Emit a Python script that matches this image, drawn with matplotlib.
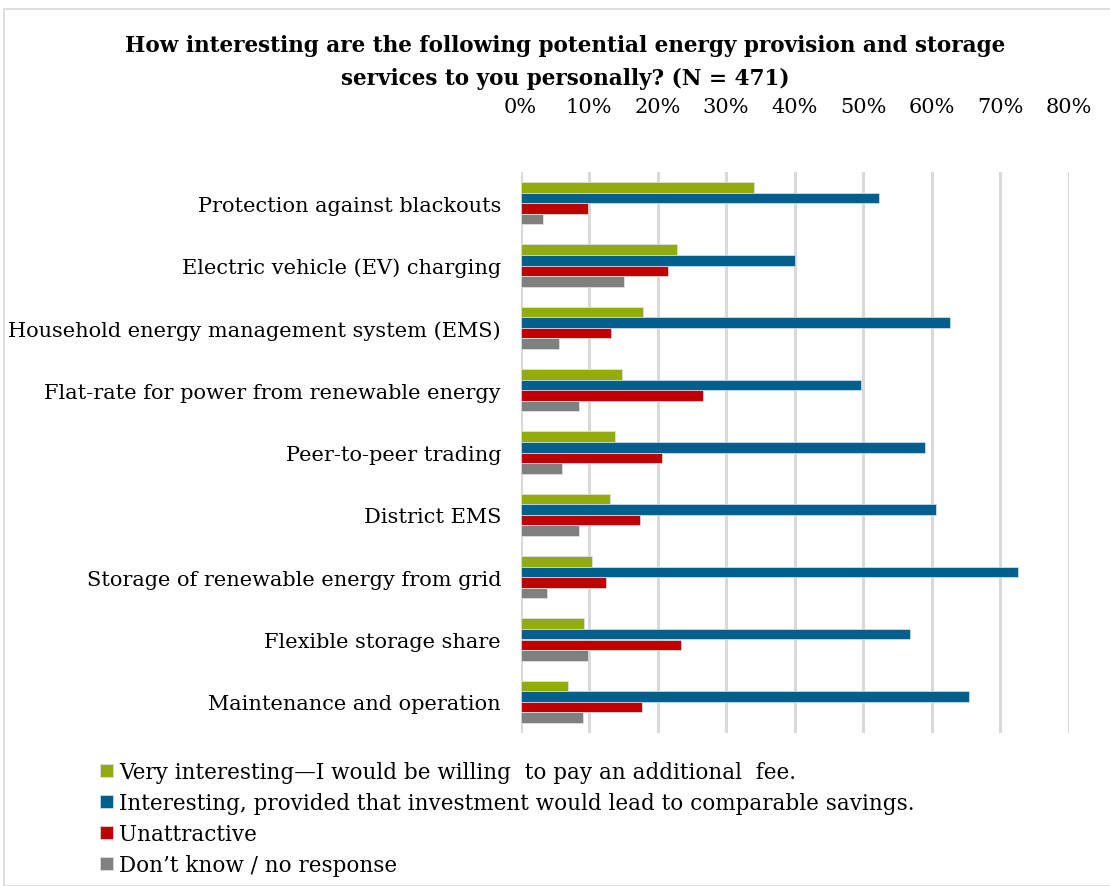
import matplotlib
matplotlib.use("Agg")
import matplotlib.pyplot as plt
from matplotlib.patches import Rectangle
import numpy as np

plt.rcParams['font.family'] = ['DejaVu Serif']

categories = [
    "Protection against blackouts",
    "Electric vehicle (EV) charging",
    "Household energy management system (EMS)",
    "Flat-rate for power from renewable energy",
    "Peer-to-peer trading",
    "District EMS",
    "Storage of renewable energy from grid",
    "Flexible storage share",
    "Maintenance and operation",
]

very_interesting = [34.1, 22.9, 17.9, 14.8, 13.8, 13.0, 10.5, 9.3, 7.0]
interesting = [52.4, 40.1, 62.7, 49.7, 59.1, 60.7, 72.7, 56.9, 65.5]
unattractive = [9.8, 21.6, 13.2, 26.7, 20.7, 17.5, 12.5, 23.4, 17.7]
dont_know = [3.3, 15.1, 5.6, 8.5, 6.1, 8.5, 3.9, 9.8, 9.1]

series_labels = [
    "Very interesting\u2014I would be willing  to pay an additional  fee.",
    "Interesting, provided that investment would lead to comparable savings.",
    "Unattractive",
    "Don\u2019t know / no response",
]
series_colors = ["#93AB0B", "#005F8C", "#C00000", "#808080"]
tick_values = [0, 10, 20, 30, 40, 50, 60, 70, 80]
tick_labels = ["0%", "10%", "20%", "30%", "40%", "50%", "60%", "70%", "80%"]

W, H = 1110, 887
fig = plt.figure(figsize=(W / 100, H / 100), dpi=100)

# outer frame
fig.patches.append(Rectangle((4 / W, 0), 1.2, (H - 10) / H, transform=fig.transFigure,
                             fill=False, edgecolor="#D9D9D9", linewidth=1.2))

left, right, top, bottom = 520.5, 1068.5, 173, 734
ax = fig.add_axes([left / W, 1 - bottom / H, (right - left) / W, (bottom - top) / H])

y = np.arange(len(categories))
h = 0.169
all_series = [very_interesting, interesting, unattractive, dont_know]
handles = []
for k, (vals, col) in enumerate(zip(all_series, series_colors)):
    bars = ax.barh(y + (k - 1.5) * h, vals, height=h, color=col,
                   edgecolor="#DCE6F0", linewidth=0.5, zorder=3)
    handles.append(bars)

fs = 15
ax.set_xlim(0, 80)
ax.set_ylim(len(categories) - 0.5, -0.5)
ax.set_xticks(tick_values)
ax.set_xticklabels(tick_labels)
ax.xaxis.tick_top()
ax.tick_params(axis="x", length=0, pad=40, labelsize=fs)
ax.tick_params(axis="y", length=0, pad=14, labelsize=fs)
ax.set_yticks(y)
ax.set_yticklabels(categories)
ax.grid(axis="x", color="#D9D9D9", linewidth=2.2, zorder=0)
for s in ax.spines.values():
    s.set_visible(False)

fig.text(565 / W, 1 - 46 / H,
         "How interesting are the following potential energy provision and storage",
         ha="center", va="center", fontsize=15.5, fontweight="bold")
fig.text(565 / W, 1 - 79 / H,
         "services to you personally? (N = 471)",
         ha="center", va="center", fontsize=15.5, fontweight="bold")

fig.legend(handles, series_labels, loc="upper left",
           bbox_to_anchor=(100 / W, 1 - 762 / H), frameon=False,
           fontsize=15.5, handlelength=0.6, handleheight=0.6, handletextpad=0.3,
           labelspacing=0.42, borderpad=0, borderaxespad=0)

fig.savefig("out.png", dpi=100)
